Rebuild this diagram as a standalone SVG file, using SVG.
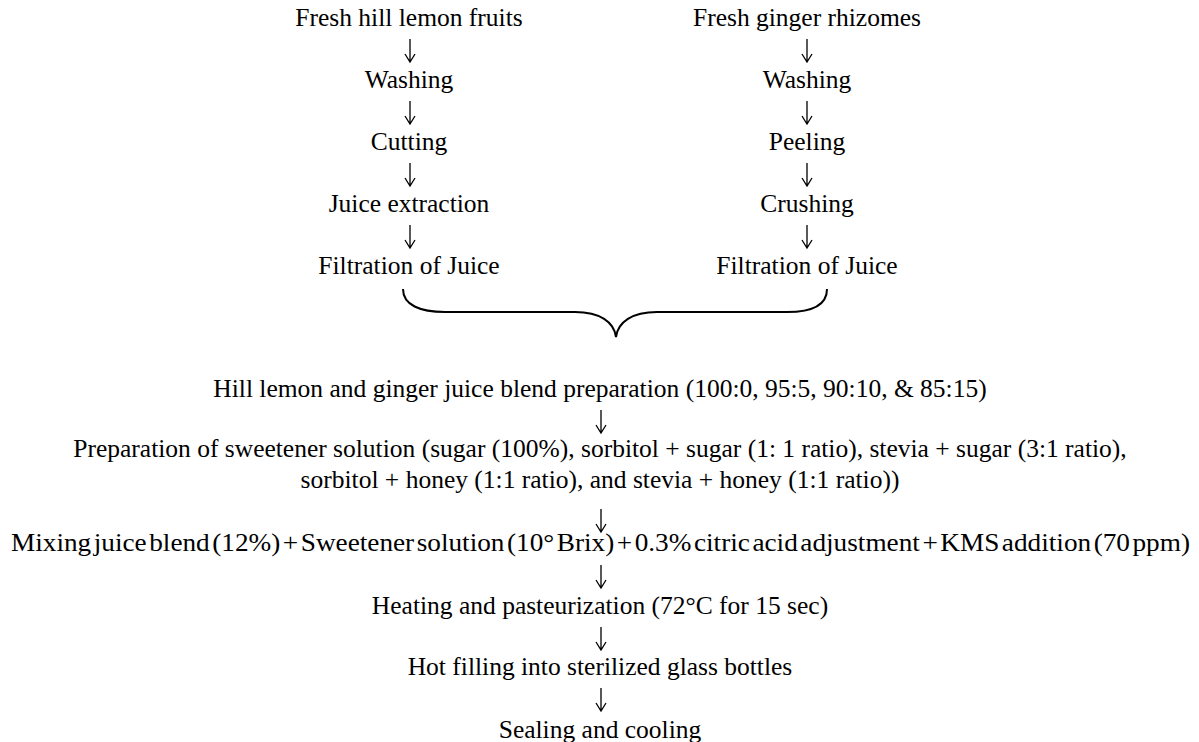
<svg xmlns="http://www.w3.org/2000/svg" width="1199" height="742" viewBox="0 0 1199 742">
<style>
text{font-family:"Liberation Serif","Times New Roman",serif;font-size:25.5px;fill:#000;text-anchor:middle}
.brace{fill:none;stroke:#000;stroke-width:2}
.arr{fill:none;stroke:#000;stroke-width:1.3}
</style>
<rect width="1199" height="742" fill="#fff"/>
<g id="lemon">
<text x="409" y="26">Fresh hill lemon fruits</text>
<text x="409" y="88">Washing</text>
<text x="409" y="150">Cutting</text>
<text x="409" y="212">Juice extraction</text>
<text x="409" y="274">Filtration of Juice</text>
</g>
<g id="ginger">
<text x="807" y="26">Fresh ginger rhizomes</text>
<text x="807" y="88">Washing</text>
<text x="807" y="150">Peeling</text>
<text x="807" y="212">Crushing</text>
<text x="807" y="274">Filtration of Juice</text>
</g>
<g id="connectors">
<path class="arr" d="M410,39V62M405,54L410,62L415,54"/>
<path class="arr" d="M410,101V124M405,116L410,124L415,116"/>
<path class="arr" d="M410,163V186M405,178L410,186L415,178"/>
<path class="arr" d="M410,225V248M405,240L410,248L415,240"/>
<path class="arr" d="M807,39V62M802,54L807,62L812,54"/>
<path class="arr" d="M807,101V124M802,116L807,124L812,116"/>
<path class="arr" d="M807,163V186M802,178L807,186L812,178"/>
<path class="arr" d="M807,225V248M802,240L807,248L812,240"/>
<path class="brace" d="M403,289 C403,305 420,312 445,312 L575,312 C600,312 614,322 616,337 C618,322 632,312 657,312 L787,312 C812,312 827,305 827,289"/>
<path class="arr" d="M601,410V433M596,425L601,433L606,425"/>
<path class="arr" d="M601,509V532M596,524L601,532L606,524"/>
<path class="arr" d="M601,565V588M596,580L601,588L606,580"/>
<path class="arr" d="M601,627V650M596,642L601,650L606,642"/>
<path class="arr" d="M601,688V711M596,703L601,711L606,703"/>
</g>
<g id="process">
<text x="600" y="397">Hill lemon and ginger juice blend preparation (100:0, 95:5, 90:10, &amp; 85:15)</text>
<text x="600" y="457">Preparation of sweetener solution (sugar (100%), sorbitol + sugar (1: 1 ratio), stevia + sugar (3:1 ratio),</text>
<text x="600" y="488">sorbitol + honey (1:1 ratio), and stevia + honey (1:1 ratio))</text>
<text x="600.5" y="551" word-spacing="-4" textLength="1179" lengthAdjust="spacingAndGlyphs">Mixing juice blend (12%) + Sweetener solution (10° Brix) + 0.3% citric acid adjustment + KMS addition (70 ppm)</text>
<text x="600" y="614">Heating and pasteurization (72°C for 15 sec)</text>
<text x="600" y="675">Hot filling into sterilized glass bottles</text>
<text x="600" y="738">Sealing and cooling</text>
</g>
</svg>
